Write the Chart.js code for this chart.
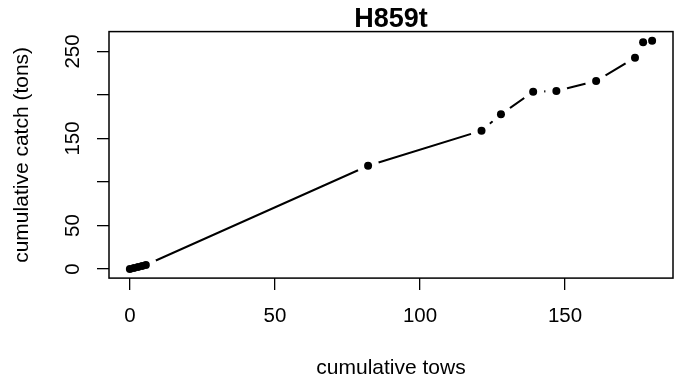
<!DOCTYPE html>
<html>
<head>
<meta charset="utf-8">
<script src="https://cdn.jsdelivr.net/npm/chart.js@4"></script>
<style>
  html, body { margin: 0; padding: 0; background: #fff; }
</style>
</head>
<body>
<canvas id="towChart" width="685" height="388"></canvas>
<script>
// cumulative tows vs cumulative catch
const cumTows = [0, 1.4, 2.8, 4.2, 5.5, 82.1, 121.2, 127.9, 139, 147, 160.7, 174.1, 176.9, 180];
const cumCatch = [0, 1.2, 2.4, 3.5, 4.6, 118.7, 159, 177.8, 203.8, 204.6, 216.1, 242.9, 260.6, 262.4];
const xTicks = [0, 50, 100, 150];
const yTicks = [0, 50, 100, 150, 200, 250];
const yTickLabels = ['0', '50', '', '150', '', '250'];
const chartTitle = 'H859t';

const points = cumTows.map((x, i) => ({ x: x, y: cumCatch[i] }));
const fontFamily = "'Liberation Sans', Arial, sans-serif";
const tickFont = { family: fontFamily, size: 20.5 };
const labelFont = { family: fontFamily, size: 21 };

// box around the plot region, title over the plot region and rotated y tick labels (R style)
const boxPlugin = {
    id: 'rbox',
    afterDraw(chart) {
        const { ctx, chartArea: a, scales } = chart;
        ctx.save();
        ctx.strokeStyle = '#000';
        ctx.lineWidth = 1.5;
        ctx.strokeRect(a.left, a.top, a.right - a.left, a.bottom - a.top);
        ctx.fillStyle = '#000';
        ctx.textAlign = 'center';
        ctx.textBaseline = 'middle';
        ctx.font = 'bold 27px ' + fontFamily;
        ctx.fillText(chartTitle, (a.left + a.right) / 2, 20);
        ctx.font = '20.5px ' + fontFamily;
        yTicks.forEach((v, i) => {
            const py = scales.y.getPixelForValue(v);
            ctx.save();
            ctx.translate(73, py);
            ctx.rotate(-Math.PI / 2);
            ctx.fillText(yTickLabels[i], 0, 0);
            ctx.restore();
        });
        ctx.restore();
    }
};

const ctx = document.getElementById('towChart').getContext('2d');
const towChart = new Chart(ctx, {
    type: 'scatter',
    data: {
        datasets: [
            {
                label: 'dots',
                data: points,
                showLine: false,
                pointRadius: 4,
                pointBackgroundColor: '#000',
                pointBorderWidth: 0,
                order: 0
            },
            {
                // white halo so the line stops short of each point, like type = "b"
                label: 'gap',
                data: points,
                showLine: false,
                pointRadius: 11,
                pointBackgroundColor: '#fff',
                pointBorderWidth: 0,
                clip: 0,
                order: 1
            },
            {
                label: 'line',
                data: points,
                showLine: true,
                borderColor: '#000',
                borderWidth: 2,
                pointRadius: 0,
                order: 2
            }
        ]
    },
    options: {
        responsive: false,
        animation: false,
        devicePixelRatio: 1,
        layout: { padding: { left: 0, right: 12, top: 31.6, bottom: 0 } },
        plugins: {
            legend: { display: false },
            tooltip: { enabled: false },
            title: { display: false }
        },
        scales: {
            x: {
                type: 'linear',
                min: -7.2,
                max: 187.2,
                afterBuildTicks: s => { s.ticks = xTicks.map(v => ({ value: v })); },
                afterFit: s => { s.height = 109.9; },
                ticks: {
                    color: '#000',
                    font: tickFont,
                    padding: 13.6,
                    maxRotation: 0,
                    autoSkip: false,
                    callback: v => String(v)
                },
                grid: { drawOnChartArea: false, drawTicks: true, tickLength: 12, color: '#000', lineWidth: 1.3 },
                border: { display: false },
                title: {
                    display: true,
                    text: 'cumulative tows',
                    color: '#000',
                    font: labelFont,
                    padding: { top: 0, bottom: 7.4 }
                }
            },
            y: {
                type: 'linear',
                min: -10.5,
                max: 272.9,
                afterBuildTicks: s => { s.ticks = yTicks.map(v => ({ value: v })); },
                afterFit: s => { s.width = 109; },
                ticks: { display: false },
                grid: { drawOnChartArea: false, drawTicks: true, tickLength: 12, color: '#000', lineWidth: 1.3 },
                border: { display: false },
                title: {
                    display: true,
                    text: 'cumulative catch (tons)',
                    color: '#000',
                    font: labelFont,
                    padding: { top: 10, bottom: 0 }
                }
            }
        }
    },
    plugins: [boxPlugin]
});
</script>
</body>
</html>
